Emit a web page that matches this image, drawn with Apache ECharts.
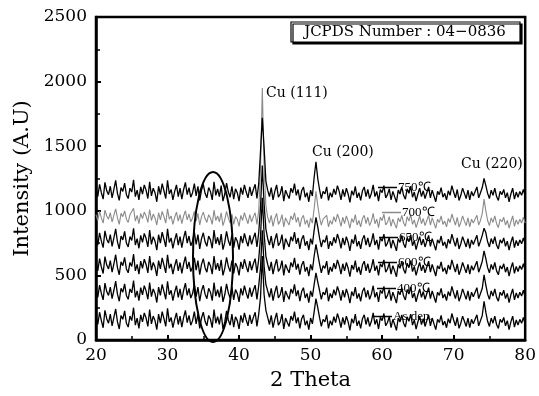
<!DOCTYPE html>
<html><head><meta charset="utf-8">
<script src="https://cdn.jsdelivr.net/npm/echarts@6/dist/echarts.min.js"></script>
<style>html,body{margin:0;padding:0;background:#fff}#c{width:539px;height:396px}</style>
</head><body><div id="c"></div>
<script>
// 2θ sampling grid: 20 to 80 in 0.25° steps (241 points)
var thetaStart = 20, thetaStep = 0.25, nPts = 241;
var seriesNames = ['As dep.', '400℃', '600℃', '650℃', '700℃', '750℃'];
var peakLabels = ['Cu (111)', 'Cu (200)', 'Cu (220)'];
var xTicks = [20, 30, 40, 50, 60, 70, 80];
var yTicks = [0, 500, 1000, 1500, 2000, 2500];

var asDep = [185,120,215,150, 95,230,165,130, 200,110,175,240, 140,85,190,160, 225,130,100,185,
150,250,115,170, 90,195,140,210, 170,105,235,125, 185,150,80,200, 130,220,165,105,
245,140,175,95, 160,210,120,185, 100,175,230,135, 190,115,150,220, 125,200,90,170,
215,145,110,190, 160,95,235,130, 180,120,205,85, 140,225,155,115, 200,100,180,150,
85,190,135,210, 155,110,195,125, 175,215,105,200, 330,650,350,230, 175,120,190,95,
160,210,115,140, 200,85,170,135, 105,185,150,220, 130,175,90,165, 195,115,150,80,
170,125,220,320, 250,175,105,160, 140,195,90,150, 115,180,135,205, 160,95,175,120,
185,140,75,165, 130,200,110,150, 90,165,195,120, 175,105,145,210, 120,160,85,175,
150,205,110,135, 180,95,160,120, 75,170,140,195, 130,100,180,145, 200,115,155,85,
140,185,120,165, 105,150,195,110, 170,125,80,160, 135,190,115,145, 95,165,130,205,
155,110,175,90, 130,185,145,105, 170,95,160,125, 140,195,110,150, 190,300,215,145,
105,170,130,185, 120,90,160,135, 175,110,150,80, 140,185,100,155, 115,160,130,175, 120];

var t400 = [395,330,425,360, 310,440,375,345, 410,320,385,455, 355,300,400,370, 435,345,315,395,
365,460,330,380, 305,405,350,420, 380,315,445,335, 395,360,290,410, 345,430,375,315,
455,350,385,305, 370,420,330,395, 310,385,440,345, 400,325,360,430, 335,410,300,380,
425,355,320,400, 370,305,445,340, 390,330,415,295, 350,435,365,325, 410,310,390,360,
295,400,345,420, 365,320,405,335, 385,425,315,420, 560,850,570,430, 380,330,400,305,
370,420,325,350, 410,295,380,345, 315,395,360,430, 340,385,300,375, 405,325,360,290,
380,335,430,520, 450,385,315,370, 350,405,300,360, 325,390,345,415, 370,305,385,330,
395,350,285,375, 340,410,320,360, 300,375,405,330, 385,315,355,420, 330,370,295,385,
360,415,320,345, 390,305,370,330, 285,380,350,405, 340,310,390,355, 410,325,365,295,
350,395,330,375, 315,360,405,320, 380,335,290,370, 345,400,325,355, 305,375,340,415,
365,320,385,300, 340,395,355,315, 380,305,370,335, 350,405,320,360, 400,505,425,355,
315,380,340,395, 330,300,370,345, 385,320,360,290, 350,395,310,365, 325,370,340,385, 330];

var t600 = [600,535,630,565, 515,645,580,550, 615,525,590,660, 560,505,605,575, 640,550,520,600,
570,665,535,585, 510,610,555,625, 585,520,650,540, 600,565,495,615, 550,635,580,520,
660,555,590,510, 575,625,535,600, 515,590,645,550, 605,530,565,635, 540,615,505,585,
630,560,525,605, 575,510,650,545, 595,535,620,500, 555,640,570,530, 615,515,595,565,
500,605,550,625, 570,525,610,540, 590,630,520,625, 800,1100,820,650, 585,535,605,510,
575,625,530,555, 615,500,585,550, 520,600,565,635, 545,590,505,580, 610,530,565,495,
585,540,650,740, 665,590,520,575, 555,610,505,565, 530,595,550,620, 575,510,590,535,
600,555,490,580, 545,615,525,565, 505,580,610,535, 590,520,560,625, 535,575,500,590,
565,620,525,550, 595,510,575,535, 490,585,555,610, 545,515,595,560, 615,530,570,500,
555,600,535,580, 520,565,610,525, 585,540,495,575, 550,605,530,560, 510,580,545,620,
570,525,590,505, 545,600,560,520, 585,510,575,540, 555,610,525,565, 610,690,630,560,
520,585,545,600, 535,505,575,550, 590,525,565,495, 555,600,515,570, 530,575,545,590, 540];

var t650 = [800,735,830,765, 715,845,780,750, 815,725,790,860, 760,705,805,775, 840,750,720,800,
770,865,735,785, 710,810,755,825, 785,720,850,740, 800,765,695,815, 750,835,780,720,
860,755,790,710, 775,825,735,800, 715,790,845,750, 805,730,765,835, 740,815,705,785,
830,760,725,805, 775,710,850,745, 795,735,820,700, 755,840,770,730, 815,715,795,765,
700,805,750,825, 770,725,810,740, 790,830,720,830, 1030,1350,1050,860, 785,735,805,710,
775,825,730,755, 815,700,785,750, 720,800,765,835, 745,790,705,780, 810,730,765,695,
785,740,850,950, 875,790,720,775, 755,810,705,765, 730,795,750,820, 775,710,790,735,
800,755,690,780, 745,815,725,765, 705,780,810,735, 790,720,760,825, 735,775,700,790,
765,820,725,750, 795,710,775,735, 690,785,755,810, 745,715,795,760, 815,730,770,700,
755,800,735,780, 720,765,810,725, 785,740,695,775, 750,805,730,760, 710,780,745,820,
770,725,790,705, 745,800,760,720, 785,710,775,740, 755,810,725,765, 810,866,830,760,
720,785,745,800, 735,705,775,750, 790,725,765,695, 755,800,715,770, 730,775,745,790, 740];

var t700 = [970,925,995,945, 905,1005,960,935, 985,915,965,1015, 945,895,980,955, 1000,935,910,970,
955,1020,920,965, 900,980,940,990, 960,910,1010,925, 975,945,890,985, 930,995,955,905,
1015,935,960,895, 950,990,920,970, 900,960,1000,930, 975,915,945,995, 920,980,890,955,
990,940,910,970, 945,895,1005,925, 960,915,985,885, 930,995,945,905, 975,895,955,935,
880,965,925,985, 940,900,970,915, 955,985,895,1000, 1320,1950,1340,1040, 950,905,965,880,
940,980,895,920, 970,875,945,915, 890,960,930,985, 910,950,875,940, 965,895,930,870,
945,905,1020,1150, 1040,950,890,935, 920,965,875,925, 895,955,915,975, 935,880,950,900,
960,920,865,940, 910,970,890,925, 875,940,965,900, 950,885,920,980, 900,935,870,950,
925,975,890,910, 955,880,935,900, 865,945,915,965, 905,880,955,920, 970,895,930,870,
915,960,900,940, 885,925,965,890, 945,905,865,935, 910,960,895,920, 875,940,910,975,
930,890,950,875, 910,960,920,885, 945,875,935,905, 915,965,890,925, 980,1090,1000,925,
885,945,910,960, 900,870,935,915, 950,890,925,865, 915,960,880,930, 895,935,905,950, 905];

var t750 = [1175,1110,1205,1140, 1090,1220,1155,1125, 1190,1100,1165,1235, 1135,1080,1180,1150, 1215,1125,1095,1175,
1145,1240,1110,1160, 1085,1185,1130,1200, 1160,1095,1225,1115, 1175,1140,1070,1190, 1125,1210,1155,1095,
1235,1130,1165,1085, 1150,1200,1110,1175, 1090,1165,1220,1125, 1180,1105,1140,1210, 1115,1190,1080,1160,
1205,1135,1100,1180, 1150,1085,1225,1120, 1170,1110,1195,1075, 1130,1215,1145,1105, 1190,1090,1170,1140,
1075,1180,1125,1200, 1145,1100,1185,1115, 1165,1205,1095,1210, 1460,1720,1490,1230, 1160,1110,1180,1085,
1150,1200,1105,1130, 1190,1075,1160,1125, 1095,1175,1140,1210, 1120,1165,1080,1155, 1185,1105,1140,1070,
1160,1115,1260,1380, 1250,1165,1095,1150, 1130,1185,1080,1140, 1105,1170,1125,1195, 1150,1085,1165,1110,
1175,1130,1065,1155, 1120,1190,1100,1140, 1080,1155,1185,1110, 1165,1095,1135,1200, 1110,1150,1075,1165,
1140,1195,1100,1125, 1170,1085,1150,1110, 1065,1160,1130,1185, 1120,1090,1170,1135, 1190,1105,1145,1075,
1130,1175,1110,1155, 1095,1140,1185,1100, 1160,1115,1070,1150, 1125,1180,1105,1135, 1085,1155,1120,1195,
1145,1100,1165,1080, 1120,1175,1135,1095, 1160,1085,1150,1115, 1130,1185,1100,1140, 1180,1250,1195,1135,
1095,1160,1120,1175, 1110,1080,1150,1125, 1165,1100,1140,1070, 1130,1175,1090,1145, 1105,1150,1120,1165, 1115];

var theta = [];
for (var i = 0; i < nPts; i++) theta.push(+(thetaStart + i * thetaStep).toFixed(2));
function pairs(v) { return v.map(function (y, i) { return [theta[i], y]; }); }

var allData = [asDep, t400, t600, t650, t700, t750];
var colors = ['#000', '#000', '#000', '#000', '#8a8a8a', '#000'];
var widths = [1.3, 1.3, 1.3, 1.3, 1.1, 1.3];
var FONT = 'DejaVu Serif';

var series = allData.map(function (d, k) {
  return {
    name: seriesNames[k], type: 'line', data: pairs(d), symbol: 'none',
    lineStyle: { color: colors[k], width: widths[k] }, itemStyle: { color: colors[k] },
    z: k === 4 ? 3 : 4, animation: false
  };
});

var legendTops = [310, 282, 256, 231, 206, 181];
var legendLefts = [373, 377, 378, 379, 382, 378];
var legends = seriesNames.map(function (n, k) {
  return {
    data: [n], left: legendLefts[k], top: legendTops[k], icon: 'rect',
    itemWidth: 19, itemHeight: 1.5, itemGap: 0, padding: 0, selectedMode: false,
    textStyle: { fontFamily: 'Liberation Serif', fontSize: 13, color: '#000', padding: [0, 0, 0, -4] }
  };
});

var chart = echarts.init(document.getElementById('c'));
chart.setOption({
  animation: false,
  backgroundColor: '#fff',
  grid: { left: 96, right: 12, top: 17, bottom: 53, show: true, borderColor: '#000', borderWidth: 2.5 },
  legend: legends,
  xAxis: {
    type: 'value', min: xTicks[0], max: xTicks[xTicks.length - 1], interval: 10,
    name: '2 Theta', nameLocation: 'middle', nameGap: 30,
    nameTextStyle: { fontFamily: FONT, fontSize: 21, color: '#000' },
    axisLine: { show: true, lineStyle: { color: '#000', width: 2.5 } },
    axisTick: { show: true, inside: true, length: 5, lineStyle: { color: '#000', width: 2 } },
    minorTick: { show: true, splitNumber: 2, length: 4, lineStyle: { color: '#000', width: 1.5 } },
    axisLabel: { fontFamily: FONT, fontSize: 17, color: '#000', margin: 7, formatter: function (v) { return String(v); } },
    splitLine: { show: false }
  },
  yAxis: {
    type: 'value', min: yTicks[0], max: yTicks[yTicks.length - 1], interval: 500,
    name: 'Intensity (A.U)', nameLocation: 'middle', nameGap: 50,
    nameTextStyle: { fontFamily: FONT, fontSize: 21, color: '#000' },
    axisLine: { show: true, lineStyle: { color: '#000', width: 2.5 } },
    axisTick: { show: true, inside: true, length: 5, lineStyle: { color: '#000', width: 2 } },
    minorTick: { show: true, splitNumber: 2, length: 4, lineStyle: { color: '#000', width: 1.5 } },
    axisLabel: { fontFamily: FONT, fontSize: 17, color: '#000', margin: 9, formatter: function (v) { return String(v); } },
    splitLine: { show: false }
  },
  series: series,
  graphic: [
    { type: 'ellipse', silent: true, z: 100, shape: { cx: 213, cy: 257, rx: 20, ry: 85 },
      style: { fill: 'none', stroke: '#000', lineWidth: 2 } },
    { type: 'rect', silent: true, z: 100, shape: { x: 291, y: 22, width: 229, height: 20 },
      style: { fill: '#fff', stroke: '#000', lineWidth: 1.2, shadowColor: '#000', shadowOffsetX: 2, shadowOffsetY: 2, shadowBlur: 0 } },
    { type: 'text', silent: true, z: 101, x: 405, y: 32,
      style: { text: 'JCPDS Number : 04\u22120836', fontFamily: FONT, fontSize: 15, fill: '#000', align: 'center', verticalAlign: 'middle' } },
    { type: 'text', silent: true, z: 101, x: 266, y: 93,
      style: { text: peakLabels[0], fontFamily: FONT, fontSize: 14, fill: '#000', verticalAlign: 'middle' } },
    { type: 'text', silent: true, z: 101, x: 312, y: 152,
      style: { text: peakLabels[1], fontFamily: FONT, fontSize: 14, fill: '#000', verticalAlign: 'middle' } },
    { type: 'text', silent: true, z: 101, x: 461, y: 164,
      style: { text: peakLabels[2], fontFamily: FONT, fontSize: 14, fill: '#000', verticalAlign: 'middle' } }
  ]
});
</script></body></html>
